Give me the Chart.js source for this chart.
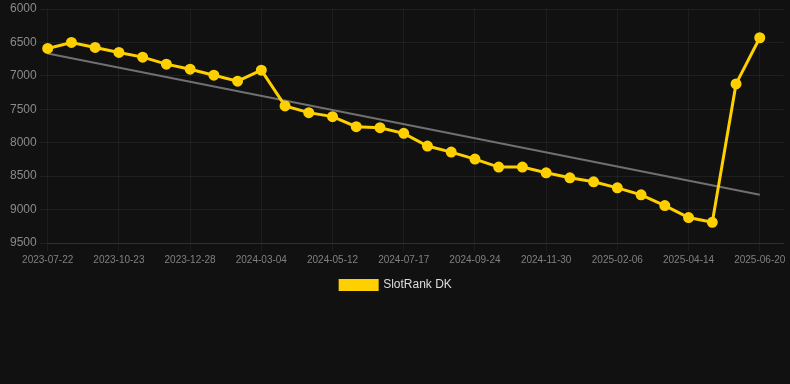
<!DOCTYPE html>
<html>
<head>
<meta charset="utf-8">
<script src="https://cdn.jsdelivr.net/npm/chart.js@4.4.1/dist/chart.umd.min.js"></script>
<style>
    html, body { margin: 0; padding: 0; background: #111111; }
    #wrap { width: 790px; height: 301px; position: relative; }
</style>
</head>
<body>
<div id="wrap"><canvas id="rank-chart"></canvas></div>
<script>
// dates (only every 3rd one is printed on the axis)
var dateLabels = [
    '2023-07-22', '2023-08-22', '2023-09-22', '2023-10-23', '2023-11-14', '2023-12-06',
    '2023-12-28', '2024-01-19', '2024-02-11', '2024-03-04', '2024-03-27', '2024-04-19',
    '2024-05-12', '2024-06-03', '2024-06-25', '2024-07-17', '2024-08-09', '2024-09-01',
    '2024-09-24', '2024-10-17', '2024-11-08', '2024-11-30', '2024-12-23', '2025-01-14',
    '2025-02-06', '2025-02-28', '2025-03-23', '2025-04-14', '2025-05-06', '2025-05-28',
    '2025-06-20', '2025-07-12'
];

// rank values
var rankValues = [
    6590, 6500, 6575, 6650, 6720, 6825, 6900, 6990, 7080, 6915,
    7450, 7550, 7610, 7760, 7775, 7860, 8050, 8140, 8245, 8365,
    8365, 8450, 8525, 8585, 8675, 8780, 8940, 9120, 9190, 7120,
    6430
];

// trend line, start and end only
var trendStart = 6665;
var trendEnd = 8777;

var yTicks = { min: 6000, max: 9500, step: 500 };

var trendData = rankValues.map(function () { return null; });
trendData[0] = trendStart;
trendData[rankValues.length - 1] = trendEnd;

Chart.defaults.font.family = '"Helvetica Neue", Helvetica, Arial, "Liberation Sans", sans-serif';

var ctx = document.getElementById('rank-chart').getContext('2d');

var chart = new Chart(ctx, {
    type: 'line',
    data: {
        labels: dateLabels,
        datasets: [{
            label: 'SlotRank DK',
            data: rankValues,
            borderColor: '#FFD000',
            backgroundColor: '#FFD000',
            pointBackgroundColor: '#FFD000',
            pointBorderColor: '#FFD000',
            borderWidth: 3,
            pointRadius: 4.5,
            pointBorderWidth: 2,
            tension: 0
        }, {
            label: 'trend',
            data: trendData,
            borderColor: '#707070',
            borderWidth: 2,
            pointRadius: 0,
            spanGaps: true,
            tension: 0
        }]
    },
    options: {
        responsive: true,
        maintainAspectRatio: false,
        animation: false,
        layout: {
            padding: { left: 7, right: 5 }
        },
        scales: {
            x: {
                offset: false,
                grid: {
                    color: function (c) {
                        return c.index % 3 === 0 ? 'rgba(255,255,255,0.05)' : 'rgba(0,0,0,0)';
                    }
                },
                border: { color: 'rgba(255,255,255,0.08)' },
                ticks: {
                    autoSkip: false,
                    maxRotation: 0,
                    color: '#808080',
                    font: { size: 10 },
                    callback: function (value, index) {
                        return index % 3 === 0 ? dateLabels[index] : '';
                    }
                }
            },
            y: {
                reverse: true,
                min: yTicks.min,
                max: yTicks.max,
                grid: { color: 'rgba(255,255,255,0.06)' },
                border: { display: false },
                ticks: {
                    stepSize: yTicks.step,
                    color: '#8a8a8a',
                    font: { size: 12, lineHeight: 1 },
                    callback: function (value) { return String(value); }
                }
            }
        },
        plugins: {
            legend: {
                position: 'bottom',
                labels: {
                    color: '#dddddd',
                    font: { size: 12 },
                    boxWidth: 37,
                    boxHeight: 9,
                    filter: function (item) { return item.datasetIndex === 0; }
                }
            },
            tooltip: { enabled: false }
        }
    }
});
</script>
</body>
</html>
